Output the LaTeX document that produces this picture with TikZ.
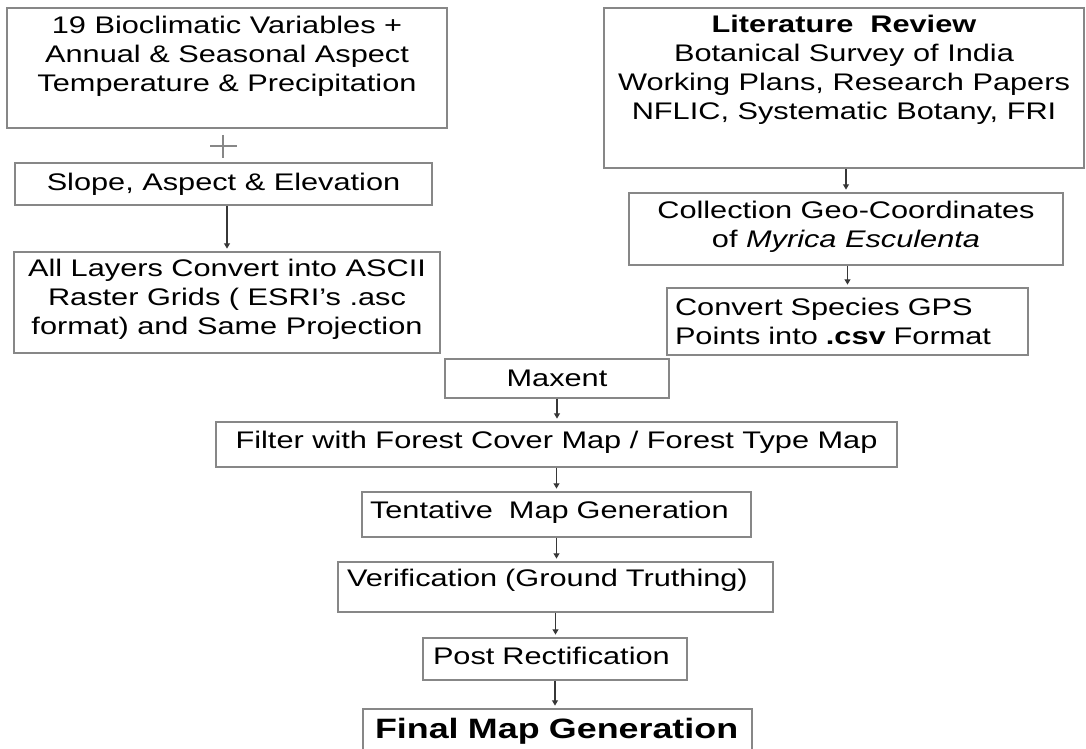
\documentclass[tikz,border=0pt]{standalone}
\usepackage{fontspec}
\setmainfont{Liberation Sans}[FakeStretch=1.28]
\usetikzlibrary{arrows.meta}

\definecolor{boxgray}{RGB}{135,135,135}
\definecolor{linegray}{RGB}{55,55,55}
\newcommand{\padd}[1]{\rule[-#1]{0pt}{0pt}}

\begin{document}
\begin{tikzpicture}[
x=0.75pt,
y=-0.75pt,
every node/.style={font=\fontsize{18}{21.75}\selectfont},
stage/.style={draw=boxgray, line width=1.1pt, inner sep=0pt, align=center},
link/.style={draw=linegray, line width=0.8pt, shorten >=2pt, -{Triangle[length=4pt,width=4.5pt]}}
]

\useasboundingbox (0,0) rectangle (1086,749);
\clip (0,0) rectangle (1086,749);

% left column
\node[stage, minimum width=330pt, minimum height=90pt] (bioclim) at (227,68)
  {19 Bioclimatic Variables +\\ Annual \& Seasonal Aspect\\ Temperature \& Precipitation\padd{21.9pt}};
\draw[boxgray, line width=0.8pt] (210,146) -- (237,146) (223,135) -- (223,158);
\node[stage, minimum width=312.75pt, minimum height=31.5pt] (slope) at (223.5,184)
  {Slope, Aspect \& Elevation};
\node[stage, minimum width=319.5pt, minimum height=75.75pt] (ascii) at (227,302.5)
  {All Layers Convert into ASCII\\ Raster Grids ( ESRI’s .asc\\ format) and Same Projection\padd{9.2pt}};

% right column
\node[stage, minimum width=360pt, minimum height=120pt] (review) at (844,88)
  {\textbf{Literature\ \ Review}\\ Botanical Survey of India\\ Working Plans, Research Papers\\ NFLIC, Systematic Botany, FRI\padd{30.9pt}};
\node[stage, minimum width=325.5pt, minimum height=54pt] (coords) at (846,229)
  {Collection Geo-Coordinates\\ of \textit{Myrica Esculenta}\padd{7.7pt}};
\node[stage, align=left, text width=258.75pt, inner xsep=6pt, minimum height=50.25pt] (gps) at (847.5,321.5)
  {Convert Species GPS\\ Points into \textbf{.csv} Format};

% model chain
\node[stage, minimum width=168pt, minimum height=29.25pt] (maxent) at (557,378.5) {Maxent};
\node[stage, minimum width=510.75pt, minimum height=33.75pt] (filter) at (556.5,444.5)
  {Filter with Forest Cover Map / Forest Type Map\padd{6.4pt}};
\node[stage, align=left, text width=279.75pt, inner xsep=6pt, minimum height=33.75pt] (tentative) at (556.5,514.5)
  {\mbox{Tentative\ \ Map Generation\padd{7.7pt}}};
\node[stage, align=left, text width=312.75pt, inner xsep=6.75pt, minimum height=37.5pt] (verify) at (555.5,587)
  {\mbox{Verification (Ground Truthing)\padd{13.1pt}}};
\node[stage, align=left, text width=183pt, inner xsep=7.5pt, minimum height=31.5pt] (post) at (555,659)
  {\mbox{Post Rectification\padd{5.4pt}}};
\node[stage, align=left, text width=273.75pt, inner xsep=9pt, minimum height=42pt,
  font=\fontsize{21}{25}\selectfont\bfseries] (final) at (557.5,737)
  {\mbox{Final Map Generation\padd{13.5pt}}};

% connecting arrows
\draw[link] (slope.south -| ascii.north) -- (ascii.north);
\draw[link] (review.south -| coords.north) -- (coords.north);
\draw[link] (coords.south -| gps.north) -- (gps.north);

\draw[link] (maxent.south) -- (maxent.south |- filter.north);
\draw[link] (filter.south) -- (filter.south |- tentative.north);
\draw[link] (tentative.south) -- (tentative.south |- verify.north);
\draw[link] (verify.south) -- (verify.south |- post.north);
\draw[link] (post.south) -- (post.south |- final.north);

\end{tikzpicture}
\end{document}
